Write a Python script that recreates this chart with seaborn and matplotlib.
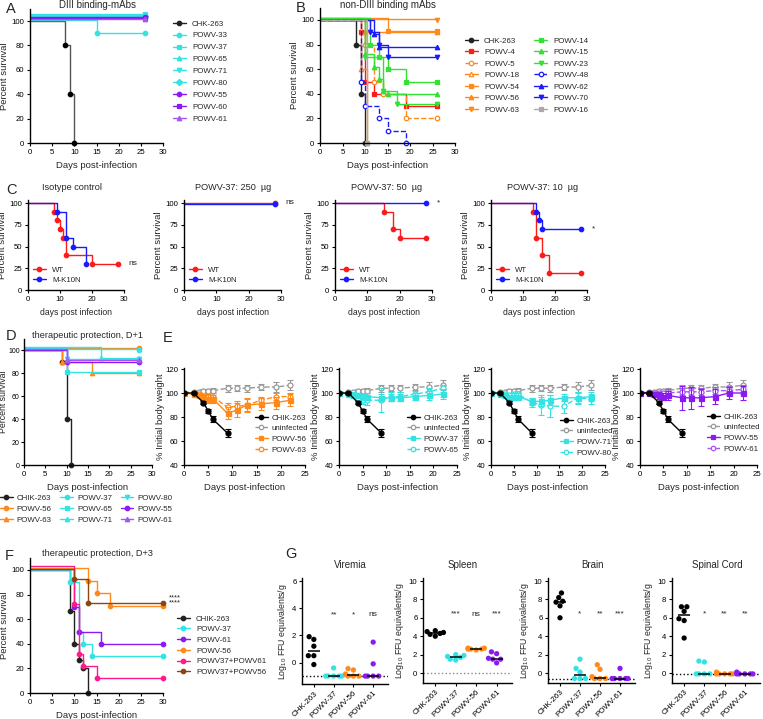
import matplotlib
matplotlib.use("Agg")
import pandas as pd
import matplotlib.pyplot as plt
import seaborn as sns
from matplotlib.lines import Line2D

# ---------------- data ----------------
# A: DIII binding mAbs, survival steps (day, percent)
a_labels = ['CHK-263', 'POWV-33', 'POWV-37', 'POWV-65', 'POWV-71', 'POWV-80', 'POWV-55', 'POWV-60', 'POWV-61']
a_days = [[0, 8, 9, 10], [0, 15, 26], [0, 26], [0, 26], [0, 26], [0, 26], [0, 26], [0, 26], [0, 26]]
a_surv = [[100, 80, 40, 0], [100.5, 90, 90], [106, 106], [105.3, 105.3], [104.6, 104.6], [104, 104],
          [103, 103], [102.3, 102.3], [101.6, 101.6]]

# B: non-DIII binding mAbs
b_labels = ['CHK-263', 'POWV-4', 'POWV-5', 'POWV-18', 'POWV-54', 'POWV-56', 'POWV-63',
            'POWV-14', 'POWV-15', 'POWV-23', 'POWV-48', 'POWV-62', 'POWV-70', 'POWV-16']
b_days = [[0, 8, 9, 10], [0, 9, 10, 12, 19, 26], [0, 10, 12, 14, 19, 26], [0, 9, 10.5],
          [0, 15, 26], [0, 10, 26], [0, 26], [0, 11, 13, 15, 19, 26], [0, 10, 12, 13, 14, 15, 26],
          [0, 10, 14, 17, 26], [0, 9, 10, 13, 15, 19], [0, 12, 13, 26], [0, 11, 13, 15, 26], [0, 10.5]]
b_surv = [[100, 80, 40, 0], [100.5, 90, 50, 40, 30, 30], [100, 80, 50, 40, 20, 20], [101, 60, 0],
          [101.5, 91, 91], [100.5, 90, 90], [101, 100], [102, 80, 70, 60, 50, 50],
          [101.5, 72, 62, 52, 42, 40, 40], [101, 70, 42, 32, 32], [100, 50, 30, 20, 10, 0],
          [100, 89, 78, 78], [100, 90, 80, 70, 70], [100, 0]]

# C: WT vs M-K10N
c_titles = ['Isotype control', 'POWV-37: 250  \u00b5g', 'POWV-37: 50  \u00b5g', 'POWV-37: 10  \u00b5g']
c_sig = ['ns', 'ns', '*', '*']
c_sig_y = [30, 100, 100, 70]
c_wt_days = [[0, 8, 9, 10, 11, 12, 20, 28], [0, 28], [0, 15, 18, 20, 28], [0, 13, 14, 16, 18, 28]]
c_wt_surv = [[100, 90, 80, 70, 60, 40, 30, 30], [100, 100], [100, 90, 70, 60, 60], [100, 90, 60, 40, 20, 20]]
c_mk_days = [[0, 9, 12, 14, 18], [0, 28], [0, 28], [0, 14, 15, 16, 28]]
c_mk_surv = [[100, 90, 60, 50, 30], [99, 99], [100, 100], [100, 90, 80, 70, 70]]

# D: therapeutic protection D+1
d_labels = ['CHIK-263', 'POWV-56', 'POWV-63', 'POWV-37', 'POWV-65', 'POWV-71', 'POWV-80', 'POWV-55', 'POWV-61']
d_days = [[0, 9, 10, 11], [0, 27], [0, 9, 16, 27], [0, 27], [0, 10, 27], [0, 18, 27], [0, 10, 27],
          [0, 10, 27], [0, 10, 27]]
d_surv = [[100, 90, 40, 0], [102, 102], [100, 90, 80, 80], [101, 100], [100, 81, 81], [102.5, 93, 93],
          [101.5, 92, 92], [100, 90, 90], [101, 91, 91]]

# E: body weight (% initial)
e_chik_days = [0, 2, 4, 5, 6, 9]
e_chik = [100, 100, 92, 85, 78, 66.5]
e_chik_err = [0.5, 1, 1.5, 2, 2.5, 3.5]
e_days = [0, 2, 3, 4, 5, 6, 9, 11, 13, 16, 19, 22]
e_uninf = [100, 101, 101, 102, 102, 102, 104, 104, 104, 105, 105, 106.5]
e_uninf_err = [1, 1, 1, 1.5, 1.5, 2, 3, 2.5, 3, 2.5, 4, 4]
e_names = [['POWV-56', 'POWV-63'], ['POWV-37', 'POWV-65'], ['POWV-71', 'POWV-80'], ['POWV-55', 'POWV-61']]
e_solid = [[100, 99, 98, 96, 95, 95, 83, 86, 90, 91, 92, 94],
           [100, 99, 99, 98, 97, 97, 96, 96, 96, 97, 98, 99],
           [100, 99, 98, 96, 97, 97, 93, 93, 94, 96, 96, 97],
           [100, 100, 99, 98, 97, 98, 96, 96, 96, 97, 100, 100]]
e_solid_err = [[1, 1, 2, 2, 3, 3, 5, 6, 6, 5, 5, 5],
               [1, 1, 1, 2, 2, 3, 3, 3, 3, 3, 4, 4],
               [1, 1, 2, 2, 3, 3, 3, 4, 4, 3, 4, 4],
               [1, 1, 2, 3, 3, 4, 10, 9, 7, 6, 5, 6]]
e_dash = [[100, 100, 99, 97, 97, 97, 88, 89, 90, 94, 97, 97],
          [100, 99, 98, 96, 94, 94, 94, 97, 97, 99, 101, 104],
          [100, 99, 99, 98, 99, 99, 92, 90, 89, 89, 96, 95],
          [100, 100, 100, 100, 100, 100, 101, 101, 101, 102, 102, 103]]
e_dash_err = [[1, 1, 2, 2, 2, 3, 4, 4, 5, 3, 3, 3],
              [1, 1, 2, 2, 3, 4, 10, 4, 4, 3, 3, 3],
              [1, 1, 1, 2, 2, 3, 4, 8, 9, 6, 5, 4],
              [1, 1, 1, 2, 2, 3, 3, 3, 3, 3, 4, 4]]

# F: therapeutic protection D+3
f_labels = ['CHIK-263', 'POWV-37', 'POWV-61', 'POWV-56', 'POWV37+POWV61', 'POWV37+POWV56']
f_days = [[0, 9, 10, 11, 12, 13], [0, 9, 11, 12, 14, 30], [0, 10, 11, 16, 30], [0, 13, 15, 18, 30],
          [0, 10, 11, 12, 15, 30], [0, 10, 13, 30]]
f_surv = [[100, 67, 40, 27, 20, 0], [100, 90, 50, 40, 30, 30], [101, 70, 50, 40, 40], [102, 91, 81, 71, 71],
          [103.5, 72, 32, 22, 12, 12], [100.5, 93, 73, 73]]

# G: viral burden, log10 FFU equivalents/g
g_groups = ['CHK-263', 'POWV-37', 'POWV-56', 'POWV-61']
vir_vals = [[1.7, 1.9, 1.2, 0.5, 0.5, -0.15], [-0.4, -1, -1, -1, -1, -1],
            [-0.55, -0.45, -0.85, -1, -1, -1], [1.5, -0.1, -1, -1, -1, -1]]
spl_vals = [[4.0, 4.4, 4.2, 4.5, 4.3, 4.6], [1.9, 1.7, 1.5, 1.8, 1.4, 2.0],
            [2.6, 2.7, 2.6, 2.5, 2.7, 2.6], [2.3, 2.1, 1.5, 1.1, 1.6, 1.5]]
brn_vals = [[8.7, 8.2, 7.7, 7.8, 7.3, 6.0], [1.5, 0.5, 0.1, -0.6, -0.6, -0.6],
            [0.9, 0.4, -0.4, -0.6, -0.6, -0.6], [0.5, -0.6, -0.6, -0.6, -0.6, -0.6]]
spc_vals = [[7.2, 7.2, 6.7, 5.9, 5.7, 3.8], [1.3, 1.2, -0.1, -0.1, -0.1, -0.1],
            [0.1, -0.1, -0.1, -0.1, -0.1, -0.1], [0.1, -0.1, -0.1, -0.1, -0.1, -0.1]]
g_sig = [['', '**', '*', 'ns'], ['', '***', 'ns', '***'], ['', '*', '**', '***'], ['', '*', '**', '**']]
g_lod = [-1, 0, -0.6, -0.1]

# ---------------- style ----------------
BLK, CYA, PUR, PUR2 = '#222222', '#33E3E3', '#8A1AF0', '#A855F7'
ORA, RED, GRN, BLU, GRY = '#FF8A1A', '#FF1A1A', '#33E033', '#1A1AFF', '#AAAAAA'
PNK, BRN = '#FF1A8C', '#8B4513'
TICK, LAB, LEG, TTL = 5.6, 6.8, 5.7, 7.0

sns.set_theme(style='ticks')
plt.rcParams['font.family'] = ['Liberation Sans', 'DejaVu Sans']
plt.rcParams['mathtext.default'] = 'regular'
plt.rcParams['axes.edgecolor'] = 'black'
plt.rcParams['axes.labelpad'] = 1.5

W, H = 763, 719
fig = plt.figure(figsize=(W / 100, H / 100), dpi=100)


def add_ax(l, r, b, t):
    return fig.add_axes([l / W, 1 - b / H, (r - l) / W, (b - t) / H])


def rows(p_lo, v_lo, p_hi, v_hi, lim):
    s = (p_lo - p_hi) / (v_hi - v_lo)
    return p_lo + (v_lo - lim[0]) * s, p_lo - (lim[1] - v_lo) * s


def prism(ax):
    sns.despine(ax=ax)
    for s in ('left', 'bottom'):
        ax.spines[s].set_linewidth(1.0)
    ax.tick_params(direction='out', length=2.5, width=0.8, labelsize=TICK, pad=1.5, colors='black')


def surv_ax(l, r, p0, p100, ytop, xmax=30, xstep=5, ystep=20):
    b, t = rows(p0, 0, p100, 100, (0, ytop))
    ax = add_ax(l, r, b, t)
    ax.set_xlim(0, xmax)
    ax.set_ylim(0, ytop)
    ax.set_xticks(range(0, xmax + 1, xstep))
    ax.set_yticks(range(0, 101, ystep))
    prism(ax)
    return ax


def km(ax, d, s, c, m, ls='-', hollow=False, lc=None):
    sns.lineplot(x=d, y=s, ax=ax, color=lc or c, drawstyle='steps-post', estimator=None,
                 sort=False, linestyle=ls, linewidth=1.0)
    ax.plot(d[1:], s[1:], ls='none', marker=m, ms=3.2, color=c, mfc='white' if hollow else c,
            mew=0.9, clip_on=False)


def hnd(c, m, ls='-', hollow=False):
    return Line2D([], [], color=c, marker=m, ls=ls, lw=1.0, ms=3.2,
                  mfc='white' if hollow else c, mew=0.9)


def leg(ax, hs, labels, x, y, ncol=1, **kw):
    opts = dict(loc='upper left', bbox_to_anchor=(x / W, 1 - y / H), bbox_transform=fig.transFigure,
                frameon=False, borderpad=0, borderaxespad=0, fontsize=LEG, handlelength=1.6,
                handletextpad=0.8, labelspacing=0.55, ncol=ncol)
    opts.update(kw)
    ax.legend(hs, labels, **opts)


def ftext(x, y, s, **kw):
    fig.text(x / W, 1 - y / H, s, va='center', **kw)


# ---------------- A ----------------
a_col = [BLK, CYA, CYA, CYA, CYA, CYA, PUR, PUR, PUR2]
a_mk = ['o', 'o', 's', '^', 'v', 'D', 'o', 's', '^']
ax = surv_ax(30, 163, 143, 21, 110)
for i in range(len(a_labels)):
    km(ax, a_days[i], a_surv[i], 'black' if i == 0 else a_col[i], a_mk[i], lc='#555555' if i == 0 else None)
ax.set_ylabel('Percent survival', fontsize=LAB)
ax.set_xlabel('Days post-infection', fontsize=LAB, labelpad=4)
leg(ax, [hnd(c, m) for c, m in zip(a_col, a_mk)], a_labels, 173, 20)
ftext(97, 5, 'DIII binding-mAbs', ha='center', fontsize=TTL)

# ---------------- B ----------------
b_col = [BLK, RED, ORA, ORA, ORA, ORA, ORA, GRN, GRN, GRN, BLU, BLU, BLU, GRY]
b_mk = ['o', 's', 'o', '^', 's', '^', 'v', 's', '^', 'v', 'o', '^', 'v', 's']
b_ls = ['-', '-', '--', '-', '-', '-', '-', '-', '-', '-', '--', '-', '-', '-']
b_hollow = [False, False, True, True, False, False, False, False, False, False, True, False, False, False]
ax = surv_ax(320, 455, 143, 20, 110)
for i in range(len(b_labels)):
    km(ax, b_days[i], b_surv[i], b_col[i], b_mk[i], b_ls[i], b_hollow[i])
ax.set_ylabel('Percent survival', fontsize=LAB)
ax.set_xlabel('Days post-infection', fontsize=LAB, labelpad=4)
leg(ax, [hnd(b_col[i], b_mk[i], b_ls[i], b_hollow[i]) for i in range(len(b_labels))], b_labels,
    465, 37, ncol=2, columnspacing=1.9, labelspacing=0.5)
ftext(388, 5, 'non-DIII binding mAbs', ha='center', fontsize=TTL)

# ---------------- C ----------------
c_lr = [(28, 124), (184, 281), (335, 432), (491, 587)]
c_tx = [72, 233, 387, 543]
for k in range(4):
    l, r = c_lr[k]
    ax = surv_ax(l, r, 290, 203, 104, xmax=30, xstep=10, ystep=25)
    km(ax, c_wt_days[k], c_wt_surv[k], RED, 'o')
    km(ax, c_mk_days[k], c_mk_surv[k], BLU, 'o')
    ax.set_ylabel('Percent survival', fontsize=LAB)
    ax.set_xlabel('days post infection', fontsize=6.2, labelpad=4)
    ax.text(31.5, c_sig_y[k], c_sig[k], fontsize=6, va='center', clip_on=False)
    leg(ax, [hnd(RED, 'o'), hnd(BLU, 'o')], ['WT', 'M-K10N'], l + 5, 266, labelspacing=0.4)
    ftext(c_tx[k], 188, c_titles[k], ha='center', fontsize=6.6)

# ---------------- D ----------------
d_col = [BLK, ORA, ORA, CYA, CYA, CYA, CYA, PUR, PUR2]
d_mk = ['o', 'o', '^', 'o', 's', '^', 'v', 'o', '^']
ax = surv_ax(24, 152, 465, 350, 110)
ax.tick_params(axis='y', labelsize=5.0, pad=0.8, length=2.2)
for i in range(len(d_labels)):
    km(ax, d_days[i], d_surv[i], d_col[i], d_mk[i])
ax.set_ylabel('Percent survival', fontsize=6.3)
ax.yaxis.set_label_coords(-16.0 / 128, 0.5)
ax.set_xlabel('Days post-infection', fontsize=LAB, labelpad=4)
leg(ax, [hnd(c, m) for c, m in zip(d_col, d_mk)], d_labels, 0, 494, ncol=3, columnspacing=1.1,
    labelspacing=0.45, handletextpad=0.5)
ftext(88, 335, 'therapeutic protection, D+1', ha='center', fontsize=6.6)

# ---------------- E ----------------
e_lr = [(184, 305), (339, 457), (491, 605), (640, 757)]
e_col = [ORA, CYA, CYA, PUR]
e_col2 = [ORA, CYA, CYA, PUR2]
e_leg = [(255, 414), (407, 414), (560, 417), (707, 413)]


def wline(ax, d, v, e, c, m, ls='-', hollow=False):
    ax.errorbar(d, v, yerr=e, fmt='none', ecolor=c, elinewidth=0.8, capsize=2.2, capthick=0.8)
    sns.lineplot(x=d, y=v, ax=ax, color=c, estimator=None, sort=False, linestyle=ls, linewidth=1.0,
                 marker=m, markersize=3.6, mec=c, mfc='white' if hollow else c, mew=0.9)


for k in range(4):
    l, r = e_lr[k]
    b, t = rows(465, 40, 369, 120, (40, 121))
    ax = add_ax(l, r, b, t)
    wline(ax, e_days, e_uninf, e_uninf_err, '#999999', 'o', '--', True)
    wline(ax, e_days, e_dash[k], e_dash_err[k], e_col2[k], 'o', '--', True)
    wline(ax, e_days, e_solid[k], e_solid_err[k], e_col[k], 's')
    wline(ax, e_chik_days, e_chik, e_chik_err, 'black', 'o')
    ax.set_xlim(0, 25)
    ax.set_ylim(40, 121)
    ax.set_xticks(range(0, 26, 5))
    ax.set_yticks(range(40, 121, 20))
    prism(ax)
    ax.set_ylabel('% Initial body weight', fontsize=LAB, labelpad=0.5)
    ax.set_xlabel('Days post-infection', fontsize=LAB, labelpad=4)
    hs = [hnd('black', 'o'), hnd('#999999', 'o', '--', True), hnd(e_col[k], 's'), hnd(e_col2[k], 'o', '--', True)]
    leg(ax, hs, ['CHIK-263', 'uninfected'] + e_names[k], e_leg[k][0], e_leg[k][1], labelspacing=0.4,
        handletextpad=0.45)

# ---------------- F ----------------
f_col = [BLK, CYA, PUR, ORA, PNK, BRN]
ax = surv_ax(30, 163, 693, 570, 110)
for i in range(len(f_labels)):
    km(ax, f_days[i], f_surv[i], f_col[i], 'o')
ax.text(31.3, 77, '****', fontsize=5.5, va='center', clip_on=False)
ax.text(31.3, 73, '****', fontsize=5.5, va='center', clip_on=False)
ax.set_ylabel('Percent survival', fontsize=LAB)
ax.set_xlabel('Days post-infection', fontsize=LAB, labelpad=4)
leg(ax, [hnd(c, 'o') for c in f_col], f_labels, 177, 615, labelspacing=0.4)
ftext(97, 553, 'therapeutic protection, D+3', ha='center', fontsize=6.6)

# ---------------- G ----------------
g_col = ['black', CYA, ORA, PUR]
g_sets = [vir_vals, spl_vals, brn_vals, spc_vals]
g_titles = ['Viremia', 'Spleen', 'Brain', 'Spinal Cord']
g_lr = [(302, 388), (423, 512), (548, 635), (672, 760)]
g_tx = [350, 463, 592, 717]
for k in range(4):
    l, r = g_lr[k]
    if k == 0:
        ylim, yt, sig_y = (-1.6, 6.2), range(0, 7, 2), 3.5
        b, t = rows(662.5, 0, 581, 6, ylim)
    else:
        ylim, yt, sig_y = (-1.1, 10.3), range(0, 11, 2), 6.4
        b, t = rows(673, 0, 581, 10, ylim)
    ax = add_ax(l, r, b, t)
    df = pd.DataFrame({'group': [g for g, vs in zip(g_groups, g_sets[k]) for _ in vs],
                       'value': [v for vs in g_sets[k] for v in vs]})
    ax.axhline(g_lod[k], color='#888888' if k == 1 else 'black', ls=':', lw=1.0, zorder=0)
    sns.swarmplot(data=df, x='group', y='value', hue='group', order=g_groups, hue_order=g_groups,
                  palette=g_col, size=3.8, ax=ax, legend=False, warn_thresh=1)
    for i, g in enumerate(g_groups):
        med = df.loc[df.group == g, 'value'].median()
        ax.hlines(med, i - 0.3, i + 0.3, color='black', lw=1.1, zorder=3)
        if g_sig[k][i]:
            ax.text(i, sig_y, g_sig[k][i], ha='center', va='center', fontsize=6)
    ax.set_xlim(-0.6, 3.75)
    ax.set_ylim(*ylim)
    ax.set_yticks(list(yt))
    prism(ax)
    ax.set_xlabel('')
    ax.set_ylabel('Log$_{10}$ FFU equivalents/g', fontsize=6.3, labelpad=2)
    ax.set_xticks(range(4))
    ax.set_xticklabels(g_groups, rotation=45, ha='right', rotation_mode='anchor', fontsize=5.8)
    ftext(g_tx[k], 565, g_titles[k], ha='center', fontsize=TTL)

# panel letters
for s, x, y in [('A', 6, 9), ('B', 296, 8), ('C', 6, 190), ('D', 6, 336), ('E', 163, 338),
                ('F', 5, 556), ('G', 285, 554)]:
    ftext(x, y, s, ha='left', fontsize=10.5)

fig.savefig('out.png', dpi=100)
